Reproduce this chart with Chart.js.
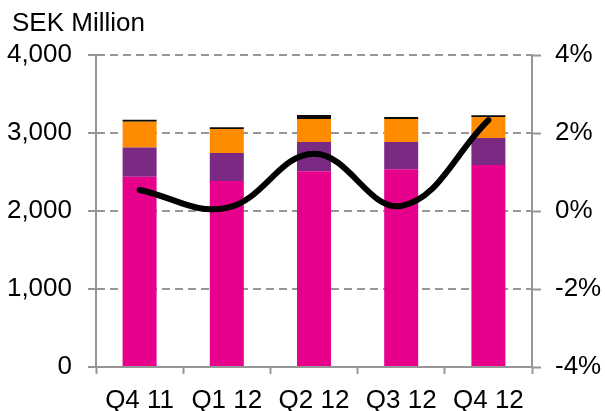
<!DOCTYPE html>
<html>
<head>
<meta charset="utf-8">
<script src="https://cdn.jsdelivr.net/npm/chart.js@4.4.1/dist/chart.umd.min.js"></script>
<style>
  html, body { margin: 0; padding: 0; background: #fff; }
  #wrap { width: 605px; height: 411px; }
</style>
</head>
<body>
<div id="wrap"><canvas id="salesChart" width="605" height="411"></canvas></div>
<script>
let quarters = ['Q4 11', 'Q1 12', 'Q2 12', 'Q3 12', 'Q4 12']

// SEK million, stacked bottom -> top
let seg_pink = [2440, 2385, 2510, 2535, 2590]
let seg_purple = [375, 360, 375, 350, 345]
let seg_orange = [330, 305, 295, 295, 270]
let seg_black = [25, 25, 50, 25, 22]

// right axis, percent
let line_pct = [0.54, 0.08, 1.47, 0.13, 2.33]

let unit_label = 'SEK Million'

let color_pink = 'rgb(230, 0, 140)'
let color_purple = 'rgb(122, 42, 130)'
let color_orange = 'rgb(255, 140, 0)'
let color_black = 'rgb(10, 10, 10)'
let color_axis = 'rgb(150, 150, 150)'

let font_family = "'Liberation Sans', Arial, sans-serif"
let font_main = { family: font_family, size: 26 }

// draws the unit text in the top-left corner
let unitLabelPlugin = {
    id: 'unitLabel',
    afterDraw: function (chart) {
        let c = chart.ctx
        c.save()
        c.font = '26px ' + font_family
        c.fillStyle = '#000'
        c.textAlign = 'left'
        c.textBaseline = 'alphabetic'
        c.fillText(unit_label, 12, 31)
        c.restore()
    }
}

function barSet(label, data, color) {
    return {
        type: 'bar',
        label: label,
        data: data,
        backgroundColor: color,
        borderWidth: 0,
        yAxisID: 'y',
        stack: 'sales',
        order: 2,
        categoryPercentage: 1,
        barPercentage: 0.39
    }
}

window.addEventListener('load', function () {
    let ctx = document.getElementById('salesChart').getContext('2d')

    window.salesChart = new Chart(ctx, {
        data: {
            labels: quarters,
            datasets: [
                {
                    type: 'line',
                    data: line_pct,
                    yAxisID: 'y1',
                    borderColor: '#000',
                    borderWidth: 6,
                    borderCapStyle: 'round',
                    tension: 0.4,
                    pointRadius: 0,
                    fill: false,
                    order: 1
                },
                barSet('a', seg_pink, color_pink),
                barSet('b', seg_purple, color_purple),
                barSet('c', seg_orange, color_orange),
                barSet('d', seg_black, color_black)
            ]
        },
        plugins: [unitLabelPlugin],
        options: {
            responsive: false,
            animation: false,
            layout: { padding: { left: 0, right: 0, top: 55, bottom: 0 } },
            plugins: {
                legend: { display: false },
                tooltip: { enabled: false },
                title: { display: false }
            },
            scales: {
                x: {
                    stacked: true,
                    afterFit: function (scale) { scale.height = 44 },
                    grid: {
                        display: true,
                        drawOnChartArea: false,
                        drawTicks: true,
                        tickLength: 7,
                        tickColor: color_axis,
                        tickWidth: 2,
                        offset: true
                    },
                    border: { display: true, color: color_axis, width: 2 },
                    ticks: { color: '#000', font: font_main, padding: 11, maxRotation: 0 }
                },
                y: {
                    position: 'left',
                    stacked: true,
                    min: 0,
                    max: 4000,
                    afterFit: function (scale) { scale.width = 96 },
                    grid: {
                        color: color_axis,
                        lineWidth: 2,
                        tickLength: 8,
                        tickColor: color_axis,
                        tickBorderDash: []
                    },
                    border: { display: true, color: color_axis, width: 2, dash: [8, 5] },
                    ticks: {
                        stepSize: 1000,
                        color: '#000',
                        font: font_main,
                        padding: 16,
                        callback: function (v) { return v.toLocaleString('en-US') }
                    }
                },
                y1: {
                    position: 'right',
                    min: -4,
                    max: 4,
                    afterFit: function (scale) { scale.width = 73 },
                    grid: {
                        drawOnChartArea: false,
                        drawTicks: true,
                        tickLength: 9,
                        tickColor: color_axis,
                        tickWidth: 2
                    },
                    border: { display: true, color: color_axis, width: 2 },
                    ticks: {
                        stepSize: 2,
                        color: '#000',
                        font: font_main,
                        padding: 14,
                        callback: function (v) { return v + '%' }
                    }
                }
            }
        }
    })
})
</script>
</body>
</html>
